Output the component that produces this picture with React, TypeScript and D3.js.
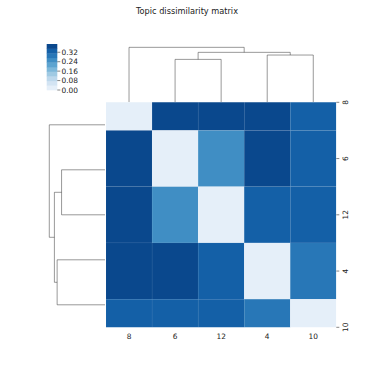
import React, { useEffect, useRef } from "react";
import * as d3 from "d3";

// topic labels in clustered order
const labels = ["8", "6", "12", "4", "10"];

// dissimilarity rows (same order as labels)
const row8 = [0.0, 0.37, 0.37, 0.38, 0.33];
const row6 = [0.37, 0.0, 0.25, 0.39, 0.33];
const row12 = [0.37, 0.25, 0.0, 0.33, 0.33];
const row4 = [0.38, 0.39, 0.33, 0.0, 0.29];
const row10 = [0.33, 0.33, 0.33, 0.29, 0.0];
const matrix = [row8, row6, row12, row4, row10];

// linkage: [left, right, height], nodes 5.. are the merges
const linkage = [
  [1, 2, 0.382],
  [3, 4, 0.421],
  [5, 6, 0.445],
  [0, 7, 0.49],
];

const cbarTicks = [0, 0.08, 0.16, 0.24, 0.32];
const nColors = 10;
const title = "Topic dissimilarity matrix";

const W = 374;
const H = 374;
const FONT = "DejaVu Sans, sans-serif";

function dendroSegments(pos: (i: number) => number) {
  const p: number[] = labels.map((_, i) => pos(i));
  const h: number[] = labels.map(() => 0);
  const segs: [number, number, number, number, number, number][] = [];
  linkage.forEach(([a, b, d]) => {
    segs.push([p[a], h[a], p[b], h[b], d, 0]);
    p.push((p[a] + p[b]) / 2);
    h.push(d);
  });
  return segs;
}

export default function App() {
  const ref = useRef<SVGSVGElement>(null);

  useEffect(() => {
    const svg = d3.select(ref.current);
    svg.selectAll("*").remove();

    const vmax = d3.max(matrix.flat()) as number;
    const palette = d3.range(nColors).map(k => d3.interpolateBlues((k + 1) / (nColors + 1)));
    const color = (v: number) => palette[Math.min(nColors - 1, Math.floor((v / vmax) * nColors))];

    // heatmap axes (top and bottom half rows are cropped)
    const x = d3.scaleBand<number>().domain(d3.range(labels.length)).range([106, 336.3]);
    const y = d3.scaleLinear().domain([0.5, labels.length - 0.5]).range([102.3, 327.3]);

    svg.append("text")
      .attr("x", 187)
      .attr("y", 13.5)
      .attr("text-anchor", "middle")
      .attr("font-family", FONT)
      .attr("font-size", 8.2)
      .attr("fill", "#222")
      .text(title);

    const defs = svg.append("defs");
    defs.append("clipPath").attr("id", "hm-clip")
      .append("rect")
      .attr("x", 106).attr("y", 102.3)
      .attr("width", 230.3).attr("height", 225);

    const cells = svg.append("g").attr("clip-path", "url(#hm-clip)");
    matrix.forEach((row, i) => {
      cells.selectAll(null)
        .data(row)
        .join("rect")
        .attr("x", (_, j) => x(j) as number)
        .attr("y", y(i))
        .attr("width", x.bandwidth())
        .attr("height", y(i + 1) - y(i))
        .attr("fill", d => color(d))
        .attr("stroke", "#fff")
        .attr("stroke-opacity", 0.06)
        .attr("stroke-width", 0.6);
    });

    // x tick labels
    svg.append("g")
      .attr("font-family", FONT)
      .attr("font-size", 7.4)
      .attr("fill", "#222")
      .attr("text-anchor", "middle")
      .selectAll("text")
      .data(labels)
      .join("text")
      .attr("x", (_, j) => (x(j) as number) + x.bandwidth() / 2)
      .attr("y", 339)
      .text(d => d);

    // y ticks on the right, rotated labels
    const yt = svg.append("g");
    yt.selectAll("line")
      .data(labels)
      .join("line")
      .attr("x1", 336.3).attr("x2", 339.3)
      .attr("y1", (_, i) => y(i + 0.5)).attr("y2", (_, i) => y(i + 0.5))
      .attr("stroke", "#333").attr("stroke-width", 0.6);
    yt.selectAll("text")
      .data(labels)
      .join("text")
      .attr("transform", (_, i) => `translate(348,${y(i + 0.5)}) rotate(-90)`)
      .attr("text-anchor", "middle")
      .attr("font-family", FONT)
      .attr("font-size", 7.4)
      .attr("fill", "#222")
      .text(d => d);

    // column dendrogram
    const maxD = d3.max(linkage, d => d[2]) as number;
    const colH = d3.scaleLinear().domain([0, maxD * 1.05]).range([102, 44.6]);
    const colSegs = dendroSegments(i => (x(i) as number) + x.bandwidth() / 2);
    svg.append("g")
      .attr("fill", "none").attr("stroke", "#333").attr("stroke-width", 0.5)
      .selectAll("path")
      .data(colSegs)
      .join("path")
      .attr("d", ([pa, ha, pb, hb, d]) =>
        `M${pa},${colH(ha)}V${colH(d)}H${pb}V${colH(hb)}`);

    // row dendrogram (spans full heatmap axes height)
    const leafY = d3.scaleLinear().domain([0, labels.length]).range([102.3, 327.3]);
    const rowH = d3.scaleLinear().domain([0, maxD * 1.05]).range([105, 46.5]);
    const rowSegs = dendroSegments(i => leafY(i + 0.5));
    svg.append("g")
      .attr("fill", "none").attr("stroke", "#333").attr("stroke-width", 0.5)
      .selectAll("path")
      .data(rowSegs)
      .join("path")
      .attr("d", ([pa, ha, pb, hb, d]) =>
        `M${rowH(ha)},${pa}H${rowH(d)}V${pb}H${rowH(hb)}`);

    // colorbar
    const cb = d3.scaleLinear().domain([0, vmax]).range([90, 44]);
    const cbar = svg.append("g");
    cbar.selectAll("rect")
      .data(palette)
      .join("rect")
      .attr("x", 46.7)
      .attr("y", (_, k) => cb((vmax * (k + 1)) / nColors))
      .attr("width", 10.6)
      .attr("height", (_, k) => cb((vmax * k) / nColors) - cb((vmax * (k + 1)) / nColors) + 0.3)
      .attr("fill", d => d);
    cbar.selectAll("line")
      .data(cbarTicks)
      .join("line")
      .attr("x1", 57.3).attr("x2", 60.3)
      .attr("y1", d => cb(d)).attr("y2", d => cb(d))
      .attr("stroke", "#333").attr("stroke-width", 0.6);
    cbar.selectAll("text")
      .data(cbarTicks)
      .join("text")
      .attr("x", 61.5)
      .attr("y", d => cb(d))
      .attr("dy", "0.35em")
      .attr("font-family", FONT)
      .attr("font-size", 7.4)
      .attr("fill", "#222")
      .text(d => d.toFixed(2));
  }, []);

  return (
    <svg
      ref={ref}
      width={W}
      height={H}
      style={{ position: "absolute", left: 0, top: 0, background: "#fff" }}
    />
  );
}
